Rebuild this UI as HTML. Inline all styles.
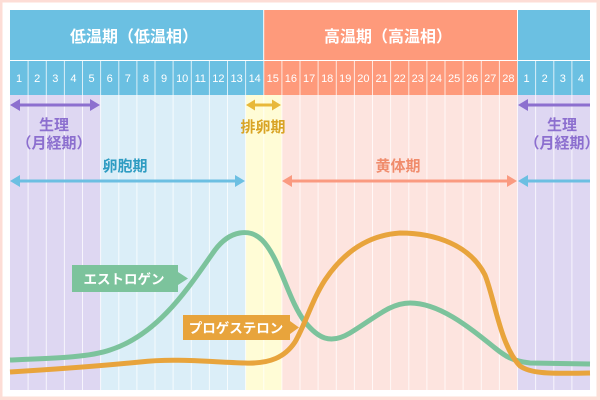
<!DOCTYPE html>
<html><head><meta charset="utf-8"><style>
html,body{margin:0;padding:0;background:#fff}
svg{display:block}
text{font-family:"Liberation Sans","Noto Sans CJK JP",sans-serif}
</style></head><body>
<svg width="600" height="400" viewBox="0 0 600 400" xmlns="http://www.w3.org/2000/svg">
<rect x="0" y="0" width="600" height="400" fill="#fdddd6"/>
<rect x="2.5" y="2.5" width="594" height="394" fill="#fff"/>
<rect x="10" y="95" width="90.6" height="295" fill="#ded7f2"/>
<rect x="100.6" y="95" width="145" height="295" fill="#dbeef8"/>
<rect x="245.6" y="95" width="36.3" height="295" fill="#fffcd6"/>
<rect x="281.9" y="95" width="235.6" height="295" fill="#fde4df"/>
<rect x="517.5" y="95" width="72.5" height="295" fill="#ded7f2"/>
<rect x="10" y="10" width="253.7" height="50" fill="#6bc0e2"/>
<rect x="263.7" y="10" width="253.8" height="50" fill="#fe9a7b"/>
<rect x="517.5" y="10" width="72.5" height="50" fill="#6bc0e2"/>
<rect x="10" y="61" width="253.7" height="34" fill="#6bc0e2"/>
<rect x="263.7" y="61" width="253.8" height="34" fill="#fe9a7b"/>
<rect x="517.5" y="61" width="72.5" height="34" fill="#6bc0e2"/>
<line x1="10" y1="60.5" x2="590" y2="60.5" stroke="#fff" stroke-opacity="0.6" stroke-width="1"/>
<line x1="263.7" y1="10" x2="263.7" y2="60" stroke="#fff" stroke-width="1"/>
<line x1="517.5" y1="10" x2="517.5" y2="60" stroke="#fff" stroke-width="1"/>
<g stroke="#fff" stroke-width="1" stroke-opacity="0.75">
<line x1="28.1" y1="61" x2="28.1" y2="390"/><line x1="46.3" y1="61" x2="46.3" y2="390"/><line x1="64.4" y1="61" x2="64.4" y2="390"/><line x1="82.5" y1="61" x2="82.5" y2="390"/><line x1="100.6" y1="61" x2="100.6" y2="390"/><line x1="118.8" y1="61" x2="118.8" y2="390"/><line x1="136.9" y1="61" x2="136.9" y2="390"/><line x1="155" y1="61" x2="155" y2="390"/><line x1="173.1" y1="61" x2="173.1" y2="390"/><line x1="191.3" y1="61" x2="191.3" y2="390"/><line x1="209.4" y1="61" x2="209.4" y2="390"/><line x1="227.5" y1="61" x2="227.5" y2="390"/><line x1="245.6" y1="61" x2="245.6" y2="390"/><line x1="263.8" y1="61" x2="263.8" y2="390"/><line x1="281.9" y1="61" x2="281.9" y2="390"/><line x1="300" y1="61" x2="300" y2="390"/><line x1="318.1" y1="61" x2="318.1" y2="390"/><line x1="336.3" y1="61" x2="336.3" y2="390"/><line x1="354.4" y1="61" x2="354.4" y2="390"/><line x1="372.5" y1="61" x2="372.5" y2="390"/><line x1="390.6" y1="61" x2="390.6" y2="390"/><line x1="408.8" y1="61" x2="408.8" y2="390"/><line x1="426.9" y1="61" x2="426.9" y2="390"/><line x1="445" y1="61" x2="445" y2="390"/><line x1="463.1" y1="61" x2="463.1" y2="390"/><line x1="481.3" y1="61" x2="481.3" y2="390"/><line x1="499.4" y1="61" x2="499.4" y2="390"/><line x1="517.5" y1="61" x2="517.5" y2="390"/><line x1="535.6" y1="61" x2="535.6" y2="390"/><line x1="553.8" y1="61" x2="553.8" y2="390"/><line x1="571.9" y1="61" x2="571.9" y2="390"/>
</g>
<g fill="#fff" font-size="16" font-weight="bold" text-anchor="middle">
<text x="134" y="42">低温期（低温相）</text>
<text x="388" y="42">高温期（高温相）</text>
</g>
<g fill="#fff" font-size="11" text-anchor="middle">
<text x="19.1" y="82">1</text><text x="37.2" y="82">2</text><text x="55.3" y="82">3</text><text x="73.4" y="82">4</text><text x="91.6" y="82">5</text><text x="109.7" y="82">6</text><text x="127.8" y="82">7</text><text x="145.9" y="82">8</text><text x="164.1" y="82">9</text><text x="182.2" y="82">10</text><text x="200.3" y="82">11</text><text x="218.4" y="82">12</text><text x="236.6" y="82">13</text><text x="254.7" y="82">14</text><text x="272.8" y="82">15</text><text x="290.9" y="82">16</text><text x="309.1" y="82">17</text><text x="327.2" y="82">18</text><text x="345.3" y="82">19</text><text x="363.4" y="82">20</text><text x="381.6" y="82">21</text><text x="399.7" y="82">22</text><text x="417.8" y="82">23</text><text x="435.9" y="82">24</text><text x="454.1" y="82">25</text><text x="472.2" y="82">26</text><text x="490.3" y="82">27</text><text x="508.4" y="82">28</text><text x="526.6" y="82">1</text><text x="544.7" y="82">2</text><text x="562.8" y="82">3</text><text x="580.9" y="82">4</text>
</g>
<g stroke-width="3">
<line x1="16" y1="105" x2="94" y2="105" stroke="#8c6fcf"/>
<line x1="252" y1="105" x2="275" y2="105" stroke="#e8b83a"/>
<line x1="16" y1="181" x2="239" y2="181" stroke="#6cbfe2"/>
<line x1="288" y1="181" x2="511" y2="181" stroke="#fa9a80"/>
<line x1="524" y1="105" x2="590" y2="105" stroke="#8c6fcf"/>
<line x1="524" y1="181" x2="590" y2="181" stroke="#6cbfe2"/>
</g>
<polygon points="10,105 20,99 20,111" fill="#8c6fcf"/><polygon points="100,105 90,99 90,111" fill="#8c6fcf"/>
<polygon points="246,105 255,99.5 255,110.5" fill="#e8b83a"/><polygon points="281,105 272,99.5 272,110.5" fill="#e8b83a"/>
<polygon points="10,181 20,175 20,187" fill="#6cbfe2"/><polygon points="245,181 235,175 235,187" fill="#6cbfe2"/>
<polygon points="282,181 292,175 292,187" fill="#fa9a80"/><polygon points="517,181 507,175 507,187" fill="#fa9a80"/>
<polygon points="518,105 528,99 528,111" fill="#8c6fcf"/>
<polygon points="518,181 528,175 528,187" fill="#6cbfe2"/>
<g font-size="15" font-weight="bold" text-anchor="middle">
<text x="54" y="130" fill="#8c6fcf">生理</text>
<text x="54" y="148" fill="#8c6fcf">（月経期）</text>
<text x="562" y="130" fill="#8c6fcf">生理</text>
<text x="562" y="148" fill="#8c6fcf">（月経期）</text>
<text x="263" y="132" fill="#d9a425">排卵期</text>
<text x="125" y="171" fill="#2e9cc2">卵胞期</text>
<text x="398" y="171" fill="#f08c6c">黄体期</text>
</g>
<path d="M10,360 C60,358 90,357 110,350 C160,334 190,285 215,250 C230,230 250,228 262,240 C280,258 288,300 305,322 C318,338 330,345 350,333 C375,318 390,303 410,303 C440,303 470,328 495,348 C505,356 512,361 530,363 L590,364" fill="none" stroke="#7cc39c" stroke-width="5"/>
<path d="M10,372 C60,369 100,366 140,362 C175,358 210,362 245,363 C270,364 285,357 295,342 C305,325 312,300 325,280 C345,250 370,235 400,233 C435,233 470,245 485,275 C495,300 500,345 520,366 C530,373 545,374 590,373" fill="none" stroke="#e8a43c" stroke-width="5"/>
<polygon points="72,265 178,265 178,272 188,278.5 178,285 178,292 72,292" fill="#7cc39c"/>
<text x="124" y="284" fill="#fff" font-size="13.5" font-weight="bold" text-anchor="middle">エストロゲン</text>
<polygon points="183,315 290,315 290,321 299,327.5 290,334 290,340 183,340" fill="#e8a43c"/>
<text x="236" y="333" fill="#fff" font-size="13.5" font-weight="bold" text-anchor="middle">プロゲステロン</text>
</svg>
</body></html>
